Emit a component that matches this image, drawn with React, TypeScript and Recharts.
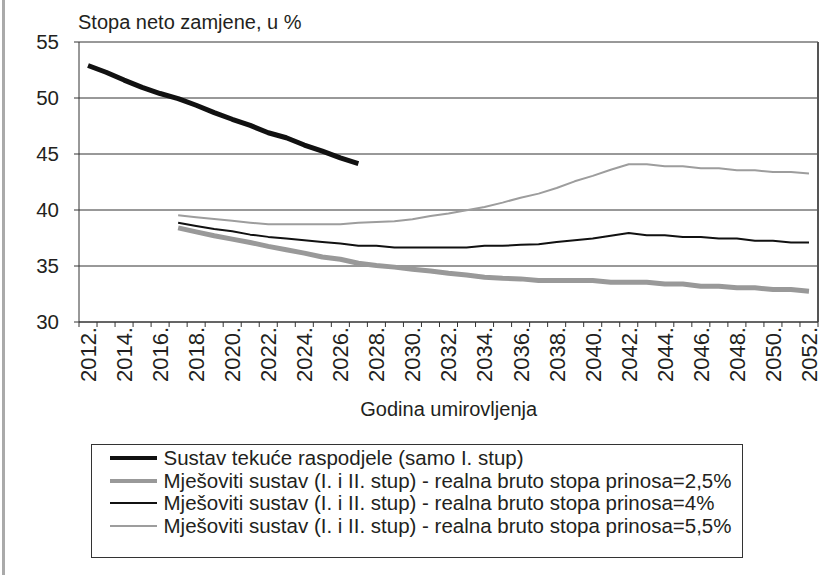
import { LineChart, Line, XAxis, YAxis, CartesianGrid, Legend, ReferenceLine, Label } from "recharts";

const years = [
  2012, 2013, 2014, 2015, 2016, 2017, 2018, 2019, 2020, 2021, 2022, 2023, 2024, 2025,
  2026, 2027, 2028, 2029, 2030, 2031, 2032, 2033, 2034, 2035, 2036, 2037, 2038, 2039,
  2040, 2041, 2042, 2043, 2044, 2045, 2046, 2047, 2048, 2049, 2050, 2051, 2052,
];

// Sustav tekuće raspodjele, 2012.-2027.
const payg = [52.9, 52.3, 51.6, 50.95, 50.4, 49.95, 49.35, 48.7, 48.1, 47.55, 46.9, 46.45, 45.8, 45.25, 44.65, 44.15];

// mješoviti sustav, 2017.-2052.
const mixedStart = 2017;
const r25 = [
  38.4, 38.05, 37.7, 37.4, 37.1, 36.75, 36.45, 36.15, 35.8, 35.6, 35.25, 35.05, 34.9, 34.7, 34.55, 34.35, 34.2, 34.0,
  33.9, 33.85, 33.7, 33.7, 33.7, 33.7, 33.55, 33.55, 33.55, 33.4, 33.4, 33.2, 33.2, 33.05, 33.05, 32.9, 32.9, 32.75,
];
const r40 = [
  38.87, 38.57, 38.3, 38.1, 37.8, 37.6, 37.45, 37.3, 37.15, 37.0, 36.8, 36.8, 36.65, 36.65, 36.65, 36.65, 36.65, 36.8,
  36.8, 36.9, 36.95, 37.15, 37.3, 37.45, 37.7, 37.95, 37.75, 37.75, 37.6, 37.6, 37.45, 37.45, 37.25, 37.25, 37.1, 37.1,
];
const r55 = [
  39.53, 39.35, 39.2, 39.05, 38.87, 38.72, 38.72, 38.72, 38.72, 38.72, 38.87, 38.93, 39.0, 39.17, 39.47, 39.68, 39.97, 40.27,
  40.66, 41.1, 41.46, 41.96, 42.56, 43.05, 43.6, 44.08, 44.08, 43.9, 43.9, 43.72, 43.72, 43.54, 43.54, 43.4, 43.4, 43.25,
];

const yTicks = [30, 35, 40, 45, 50, 55];

const seriesOrder = ["payg", "r25", "r40", "r55"] as const;

const names = {
  payg: "Sustav tekuće raspodjele (samo I. stup)",
  r25: "Mješoviti sustav (I. i II. stup) - realna bruto stopa prinosa=2,5%",
  r40: "Mješoviti sustav (I. i II. stup) - realna bruto stopa prinosa=4%",
  r55: "Mješoviti sustav (I. i II. stup) - realna bruto stopa prinosa=5,5%",
};

const styles: Record<string, { color: string; width: number; legendWidth: number }> = {
  payg: { color: "#111", width: 5, legendWidth: 4 },
  r25: { color: "#999", width: 5, legendWidth: 4 },
  r40: { color: "#111", width: 2, legendWidth: 2 },
  r55: { color: "#9d9d9d", width: 2, legendWidth: 2 },
};

const FONT = '"Liberation Sans", Arial, sans-serif';
const TEXT = "#231f20";

const data = years.map((year, i) => {
  const j = year - mixedStart;
  return {
    year,
    payg: i < payg.length ? payg[i] : null,
    r25: j >= 0 ? r25[j] : null,
    r40: j >= 0 ? r40[j] : null,
    r55: j >= 0 ? r55[j] : null,
  };
});

// boundary ticks between years, labels on every second year
const xTicks: number[] = [];
years.forEach((y, i) => {
  xTicks.push(y - 0.5);
  if (i % 2 === 0) xTicks.push(y);
});
xTicks.push(years[years.length - 1] + 0.5);

function XTick(props: any) {
  const { x, y, payload } = props;
  const v = payload.value;
  if (!Number.isInteger(v)) {
    return <line x1={x} x2={x} y1={y} y2={y + 5} stroke="#333" strokeWidth={1} />;
  }
  const ty = y + 5;
  return (
    <text x={x} y={ty} transform={`rotate(-90, ${x}, ${ty})`} textAnchor="end" dy="0.36em" fontSize={22} fill={TEXT}>
      {`${v}.`}
    </text>
  );
}

function LegendBox(props: any) {
  const payload = [...(props.payload || [])].sort(
    (a: any, b: any) => seriesOrder.indexOf(a.dataKey) - seriesOrder.indexOf(b.dataKey)
  );
  return (
    <div
      style={{
        width: 652,
        height: 114,
        boxSizing: "border-box",
        border: "1px solid #333",
        background: "#fff",
        paddingTop: 2,
        fontFamily: FONT,
      }}
    >
      {payload.map((p: any) => {
        const s = styles[p.dataKey];
        return (
          <div key={p.dataKey} style={{ display: "flex", alignItems: "center", height: 22.6 }}>
            <span style={{ display: "inline-block", marginLeft: 17.5, width: 47, height: s.legendWidth, background: s.color }} />
            <span style={{ marginLeft: 7, fontSize: 20.5, lineHeight: "22.6px", color: TEXT, whiteSpace: "nowrap" }}>{p.value}</span>
          </div>
        );
      })}
    </div>
  );
}

export default function App() {
  return (
    <div style={{ position: "absolute", left: 0, top: 0, width: 837, height: 575, background: "#fff", fontFamily: FONT }}>
      <div style={{ position: "absolute", left: 2, top: 0, width: 3, height: 575, background: "#aaa" }} />
      <LineChart width={837} height={575} data={data} margin={{ top: 42, right: 19, bottom: 160, left: 0 }}>
        <CartesianGrid vertical={false} stroke="#333" strokeWidth={1} />
        <XAxis
          dataKey="year"
          type="number"
          domain={[years[0] - 0.5, years[years.length - 1] + 0.5]}
          ticks={xTicks}
          interval={0}
          tickSize={0}
          tickMargin={0}
          tickLine={false}
          tick={<XTick />}
          axisLine={{ stroke: "#333" }}
          height={93}
        >
          <Label
            content={() => (
              <text x={448.7} y={416} textAnchor="middle" fontSize={20} fill={TEXT}>
                Godina umirovljenja
              </text>
            )}
          />
        </XAxis>
        <YAxis
          domain={[30, 55]}
          ticks={yTicks}
          width={79}
          tickSize={5}
          tickMargin={15}
          tick={{ fontSize: 20.5, fill: TEXT }}
          tickLine={{ stroke: "#333" }}
          axisLine={{ stroke: "#333" }}
        >
          <Label
            content={() => (
              <text x={78} y={29} fontSize={20} fill={TEXT}>
                Stopa neto zamjene, u %
              </text>
            )}
          />
        </YAxis>
        <ReferenceLine x={years[years.length - 1] + 0.5} stroke="#555" strokeWidth={2} />
        <Legend verticalAlign="bottom" wrapperStyle={{ left: 91, top: 444, width: 652, height: 0 }} content={<LegendBox />} />
        {seriesOrder.map((k) => (
          <Line
            key={k}
            dataKey={k}
            name={names[k]}
            type="linear"
            stroke={styles[k].color}
            strokeWidth={styles[k].width}
            dot={false}
            activeDot={false}
            isAnimationActive={false}
            strokeLinejoin="round"
          />
        ))}
      </LineChart>
    </div>
  );
}
